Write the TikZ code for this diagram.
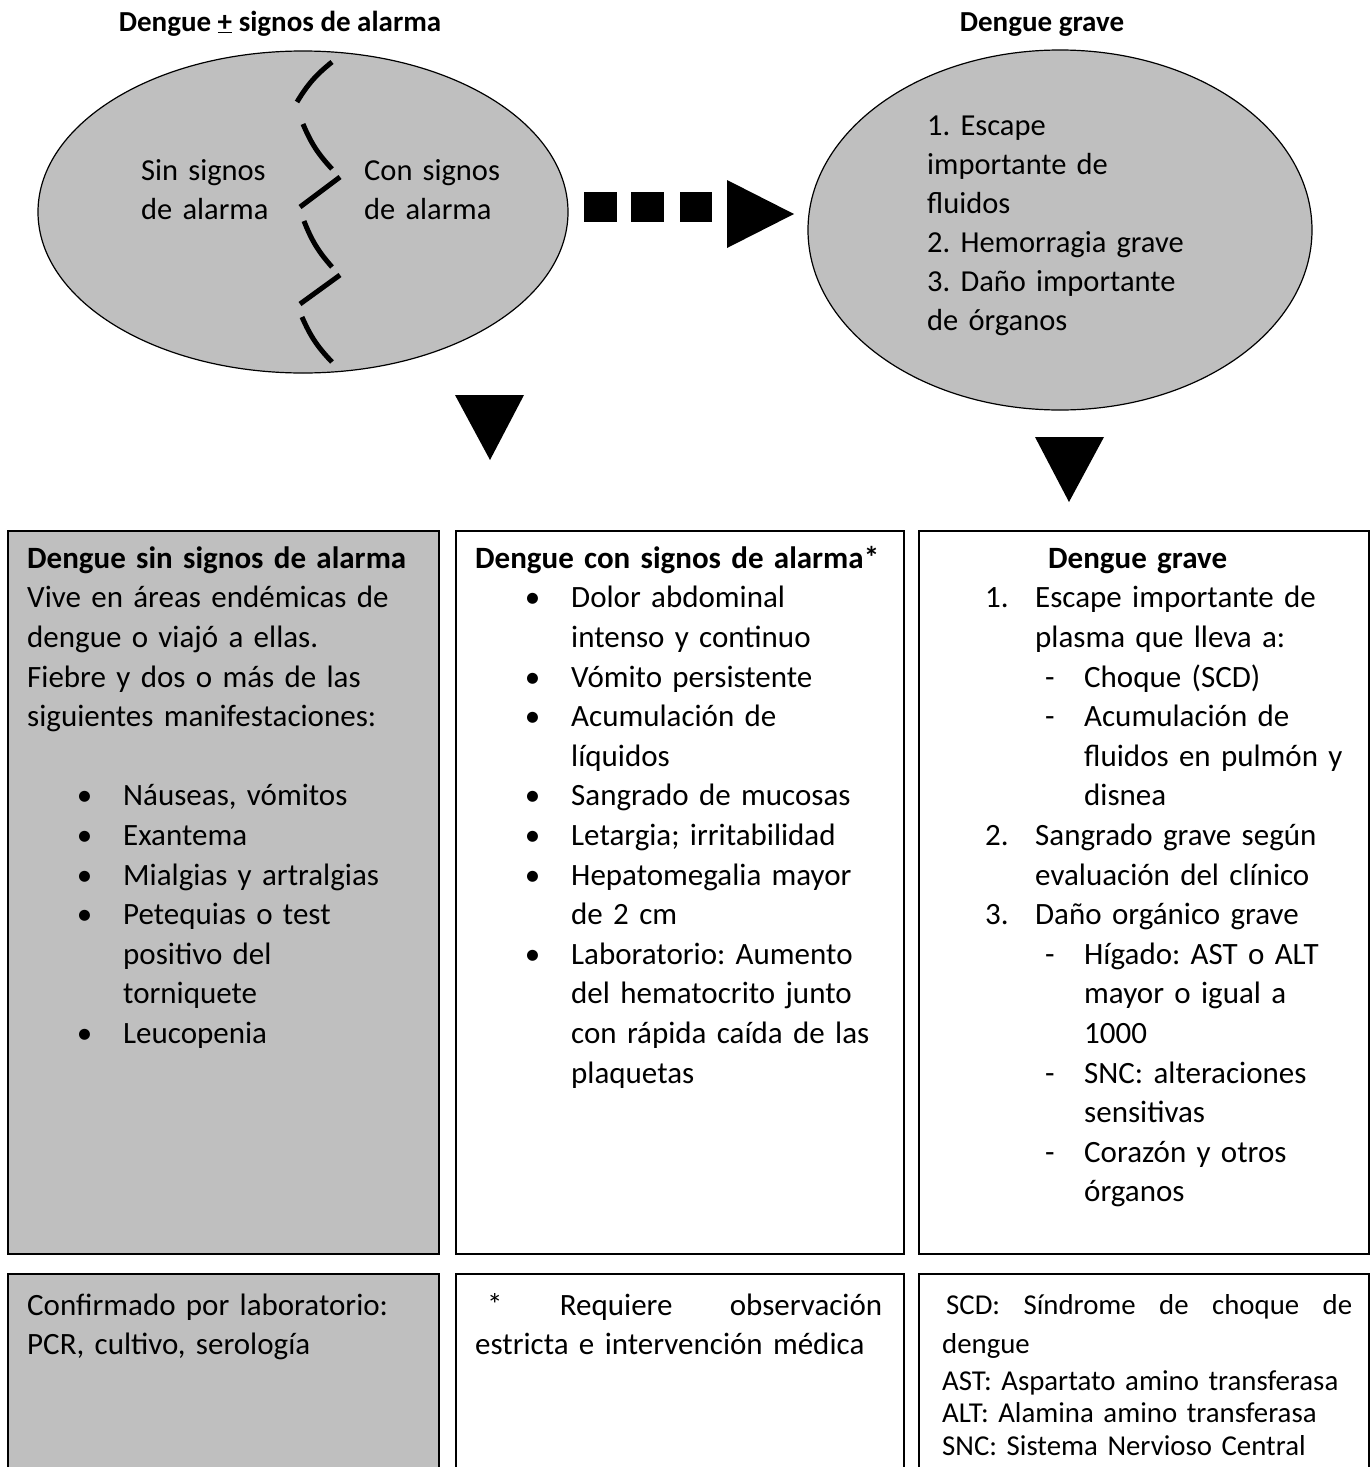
\documentclass[tikz,border=0pt]{standalone}
\usepackage{fontspec}
\setmainfont{Carlito}
\usepackage{tikz}
\usetikzlibrary{shapes.geometric,positioning}

\definecolor{boxgray}{RGB}{191,191,191}
\frenchspacing
\newcommand{\bodyfont}{\fontsize{31}{39.6}\selectfont\parindent=0pt\parskip=0pt}
\newcommand{\ovalfont}{\fontsize{30.5}{39}\selectfont\parindent=0pt}
\newcommand{\notefont}{\fontsize{28.8}{32.5}\selectfont\parindent=0pt}
\newcommand{\headfont}{\fontsize{29}{34}\selectfont\bfseries}
% list lines inside the boxes
\newcommand{\bulitem}[1]{\par{\leftskip=96pt\noindent\llap{•\hspace*{31pt}}#1\par}}
\newcommand{\numitem}[2]{\par{\leftskip=50pt\noindent\llap{\makebox[50pt][l]{#1}}#2\par}}
\newcommand{\dashitem}[1]{\par{\leftskip=99pt\noindent\llap{\makebox[39pt][l]{-}}#1\par}}

\begin{document}
\begin{tikzpicture}[x=1pt,y=-1pt,
    oval/.style={draw,ellipse,fill=boxgray,line width=1.2pt,inner sep=0pt},
    panel/.style={draw,line width=1.6pt,anchor=north west,inner sep=0pt},
    txt/.style={anchor=north west,inner sep=0pt,align=left,text width=#1},
    bar/.style={line width=5pt}]
  \useasboundingbox (0,0) rectangle (1372,1467);
  \clip (0,0) rectangle (1372,1467);

  % titles
  \node (title1) [anchor=base,font=\headfont] at (280,31) {Dengue \underline{+} signos de alarma};
  \node (title2) [anchor=base,font=\headfont] at (1042,31) {Dengue grave};

  % ovals
  \node (oval1) [oval,minimum width=530,minimum height=322] at (303,212) {};
  \node (oval2) [oval,minimum width=504,minimum height=360] at (1060,230) {};

  \node (sin) [txt=200,font=\ovalfont] at (141,152.5) {\strut Sin signos\\de alarma};
  \node (con) [txt=200,font=\ovalfont] at (364,152.5) {\strut Con signos\\de alarma};
  \node (grave) [txt=330,font=\ovalfont] at (927,107.5)
    {\strut 1. Escape\\importante de\\fluidos\\2. Hemorragia grave\\3. Daño importante\\de órganos};

  % broken divider
  \draw [bar] (332,62) to[bend right=10] (297,102);
  \draw [bar] (303,124) to[bend right=10] (332,169);
  \draw [bar] (340,177) -- (300,207);
  \draw [bar] (304,221) to[bend right=10] (332,267);
  \draw [bar] (340,275) -- (300,304);
  \draw [bar] (302,317) to[bend right=10] (332,362);

  % block arrow between ovals
  \fill (584,192) rectangle (617,222);
  \fill (631,192) rectangle (664,222);
  \fill (680,192) rectangle (712,222);
  \fill (727,180) -- (794,214) -- (727,248) -- cycle;

  % down arrows
  \fill (455,395) -- (524,395) -- (490,460) -- cycle;
  \fill (1035,437) -- (1104,437) -- (1069,502) -- cycle;

  % upper boxes
  \node (boxA) [panel,fill=boxgray,minimum width=431,minimum height=723] at (7,530) {};
  \node (boxB) [panel,minimum width=448,minimum height=723] at (455,530) {};
  \node (boxC) [panel,minimum width=450,minimum height=723] at (918,530) {};

  \node (textA) [txt=420,font=\bodyfont] at (27,540.3) {\noindent\strut\textbf{Dengue sin signos de alarma}\\
    Vive en áreas endémicas de\\
    dengue o viajó a ellas.\\
    Fiebre y dos o más de las\\
    siguientes manifestaciones:\\
    \mbox{}
    \bulitem{Náuseas, vómitos}
    \bulitem{Exantema}
    \bulitem{Mialgias y artralgias}
    \bulitem{Petequias o test\\positivo del\\torniquete}
    \bulitem{Leucopenia}};

  \node (textB) [txt=420,font=\bodyfont] at (475,540.3) {\noindent\strut\textbf{Dengue con signos de alarma*}
    \bulitem{Dolor abdominal\\intenso y continuo}
    \bulitem{Vómito persistente}
    \bulitem{Acumulación de\\líquidos}
    \bulitem{Sangrado de mucosas}
    \bulitem{Letargia; irritabilidad}
    \bulitem{Hepatomegalia mayor\\de 2 cm}
    \bulitem{Laboratorio: Aumento\\del hematocrito junto\\con rápida caída de las\\plaquetas}};

  \node (textC) [txt=380,font=\bodyfont] at (985,540.3) {\noindent\strut\hspace*{63pt}\textbf{Dengue grave}
    \numitem{1.}{Escape importante de\\plasma que lleva a:}
    \dashitem{Choque (SCD)}
    \dashitem{Acumulación de\\fluidos en pulmón y\\disnea}
    \numitem{2.}{Sangrado grave según\\evaluación del clínico}
    \numitem{3.}{Daño orgánico grave}
    \dashitem{Hígado: AST o ALT\\mayor o igual a\\1000}
    \dashitem{SNC: alteraciones\\sensitivas}
    \dashitem{Corazón y otros\\órganos}};

  % lower boxes
  \node (lowA) [panel,fill=boxgray,minimum width=431,minimum height=220] at (7,1273) {};
  \node (lowB) [panel,minimum width=448,minimum height=220] at (455,1273) {};
  \node (lowC) [panel,minimum width=450,minimum height=220] at (918,1273) {};

  \node (noteA) [txt=420,font=\bodyfont] at (27,1287.3)
    {\strut Confirmado por laboratorio:\\PCR, cultivo, serología};
  \node (noteB) [txt=420,font=\bodyfont] at (475,1287.3)
    {\strut\hbox to 407pt{\hspace*{12pt}*\hfill Requiere\hfill observación}\\estricta e intervención médica};
  \node (noteC) [txt=420,font=\notefont] at (942,1291.5)
    {\strut\hbox to 410pt{\hspace*{4pt}SCD:\hfill Síndrome\hfill de\hfill choque\hfill de}\\[7pt]
     dengue\\[4pt]
     AST: Aspartato amino transferasa\\
     ALT: Alamina amino transferasa\\
     SNC: Sistema Nervioso Central};
\end{tikzpicture}
\end{document}
